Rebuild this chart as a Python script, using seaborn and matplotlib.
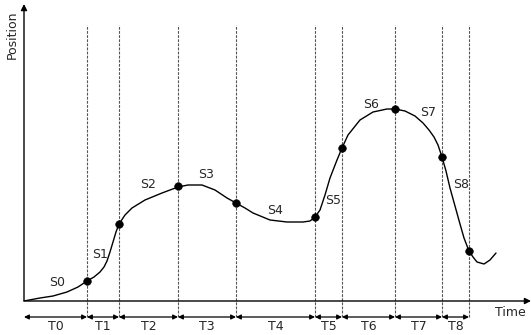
import matplotlib
matplotlib.use("Agg")
import matplotlib.pyplot as plt
import seaborn as sns
import pandas as pd

sns.set_theme(style="white")
plt.rcParams['font.family'] = ['DejaVu Sans']

# Phase boundaries on the time axis and the position at each boundary
boundaries = [0, 63, 95, 154, 212, 291, 318, 371, 418, 445]
knot_pos = [20, 77, 115, 98, 84, 153, 192, 144, 50]

# Traced curve (time, position)
curve_t = [0, 16, 29, 43, 54, 63, 70, 76, 80, 83, 86, 89, 92, 95, 101, 108,
           121, 138, 154, 164, 178, 191, 203, 212, 221, 229, 246, 263, 279,
           286, 291, 296, 301, 306, 313, 318, 324, 336, 349, 363, 371, 381,
           391, 399, 405, 410, 414, 418, 422, 426, 431, 436, 440, 445, 449,
           453, 460, 466, 472]
curve_p = [0, 3, 5, 9, 14, 20, 24, 29, 34, 40, 49, 59, 69, 77, 86, 93,
           101, 108, 114, 116, 116, 111, 103, 98, 93, 88, 81, 79, 79,
           80, 84, 91, 106, 123, 141, 153, 166, 181, 189, 192, 192, 190,
           185, 178, 171, 164, 156, 144, 130, 113, 95, 77, 63, 50, 44,
           39, 37, 41, 48]

state_labels = ["S0", "S1", "S2", "S3", "S4", "S5", "S6", "S7", "S8"]
state_lx = [33, 76, 124, 182, 251, 309, 347, 404, 437]
state_ly = [19, 46, 116, 127, 90, 101, 196, 189, 116]
phase_labels = ["T0", "T1", "T2", "T3", "T4", "T5", "T6", "T7", "T8"]

fig = plt.figure(figsize=(5.31, 3.35), dpi=100)
ax = fig.add_axes([24 / 531, 34 / 335, 507 / 531, 301 / 335])
ax.set_xlim(0, 507)
ax.set_ylim(0, 301)
ax.axis("off")

df = pd.DataFrame({"t": curve_t, "p": curve_p})
sns.lineplot(data=df, x="t", y="p", sort=False, color="black", lw=1.0, ax=ax,
             solid_joinstyle="round", solid_capstyle="round")

knots = pd.DataFrame({"t": boundaries[1:], "p": knot_pos})
sns.scatterplot(data=knots, x="t", y="p", color="black", s=30, zorder=5,
                edgecolor="black", ax=ax)

# dashed verticals
for b in boundaries[1:]:
    ax.plot([b, b], [-16, 276], color="#555555", lw=0.8,
            dashes=(2.5, 1.2), clip_on=False)

# axes arrows
ax.annotate("", xy=(0, 297), xytext=(0, 0), xycoords="data",
            arrowprops=dict(arrowstyle="-|>", color="black", lw=1.0,
                            mutation_scale=9, shrinkA=0, shrinkB=0),
            annotation_clip=False)
ax.annotate("", xy=(507, 0), xytext=(0, 0), xycoords="data",
            arrowprops=dict(arrowstyle="-|>", color="black", lw=1.0,
                            mutation_scale=9, shrinkA=0, shrinkB=0),
            annotation_clip=False)

# interval arrows and labels
for i in range(len(boundaries) - 1):
    a, b = boundaries[i], boundaries[i + 1]
    ax.annotate("", xy=(b, -16), xytext=(a, -16),
                arrowprops=dict(arrowstyle="<|-|>", color="black", lw=0.9,
                                mutation_scale=7, shrinkA=0, shrinkB=0),
                annotation_clip=False)
    ax.text((a + b) / 2, -25, phase_labels[i], ha="center", va="center",
            fontsize=9, clip_on=False)

for lab, x, y in zip(state_labels, state_lx, state_ly):
    ax.text(x, y, lab, ha="center", va="center", fontsize=9)

ax.text(486, -12, "Time", ha="center", va="center", fontsize=9, clip_on=False)
ax.text(-12, 266, "Position", ha="center", va="center", rotation=90,
        fontsize=9, clip_on=False)

fig.savefig("out.png", dpi=100)
